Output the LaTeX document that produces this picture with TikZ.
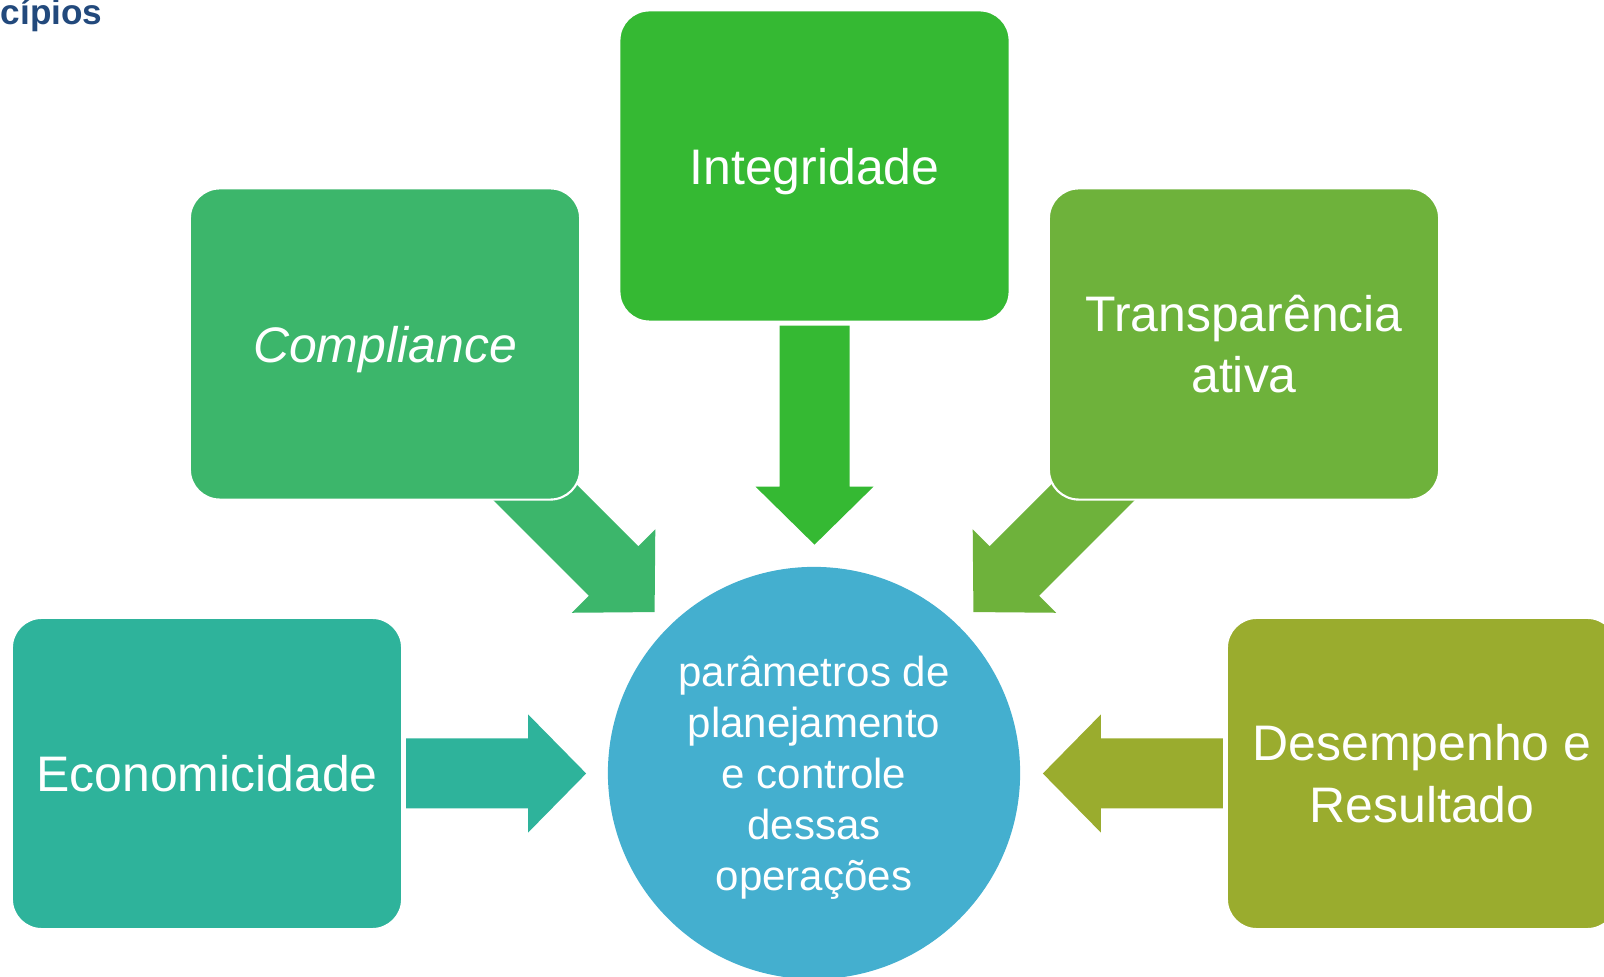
\documentclass[tikz,border=0pt]{standalone}
\usepackage{fontspec}
\setmainfont{Liberation Sans}
\usetikzlibrary{calc,backgrounds}
\definecolor{cInteg}{HTML}{35B933}
\definecolor{cCompl}{HTML}{3CB66B}
\definecolor{cTransp}{HTML}{6EB23B}
\definecolor{cEcon}{HTML}{2EB39B}
\definecolor{cDesemp}{HTML}{9AAC2E}
\definecolor{cCirc}{HTML}{44AFCF}
\definecolor{cTitle}{HTML}{22497C}
\tikzset{
  box/.style={rectangle, rounded corners=8.5pt, draw=white, line width=0.6pt,
    minimum width=3.9cm, minimum height=3.11cm, inner sep=0pt, text=white,
    text depth=0pt, align=center, font=\fontsize{14.2}{17.4}\selectfont},
  pics/blockarrow/.style n args={2}{code={
    \fill[#2] (0,-35) -- ({#1-58},-35) -- ({#1-58},-59) -- (#1,0)
      -- ({#1-58},59) -- ({#1-58},35) -- (0,35) -- cycle;
  }}
}
\begin{document}
\begin{tikzpicture}[x=0.01cm, y=-0.01cm]
        \useasboundingbox (0,0) rectangle (1604,977);
        \clip (0,0) rectangle (1604,977);
        % Heading, cut at the left
        \node[anchor=base west, inner sep=0pt, text=cTitle,
          font=\fontsize{10}{12}\selectfont\bfseries] (title) at (0,25) {cípios};
        % Principle boxes
        \node[box, fill=cInteg] (integ) at (814.5,166) {Integridade};
        \node[box, fill=cCompl] (compl) at (385,344) {\itshape Compliance};
        \node[box, fill=cTransp] (transp) at (1244,344) {Transparência\\ativa};
        \node[box, fill=cEcon] (econ) at (207,773.5) {Economicidade};
        \node[box, fill=cDesemp] (desemp) at (1422,773.5) {Desempenho e\\Resultado};
        % Centre circle
        \node[circle, fill=cCirc, minimum size=4.12cm, inner sep=0pt, text=white,
          text depth=0pt, align=center, font=\fontsize{11.95}{14.5}\selectfont]
          (circ) at (814,773) {parâmetros de\\planejamento\\e controle\\dessas\\operações};
        % Block arrows towards the circle
        \begin{scope}[on background layer]
          \pic[rotate=-90] at ($(integ.south)+(0,3)$) {blockarrow={219}{cInteg}};
          \pic[rotate=-45] at ($(compl.south east)+(-68,-30)$) {blockarrow={200}{cCompl}};
          \pic[rotate=-135] at ($(transp.south west)+(67,-30)$) {blockarrow={200}{cTransp}};
          \pic at ($(econ.east)+(3,0)$) {blockarrow={180}{cEcon}};
          \pic[rotate=180] at ($(desemp.west)+(-3,0)$) {blockarrow={180}{cDesemp}};
        \end{scope}
    \end{tikzpicture}
\end{document}
